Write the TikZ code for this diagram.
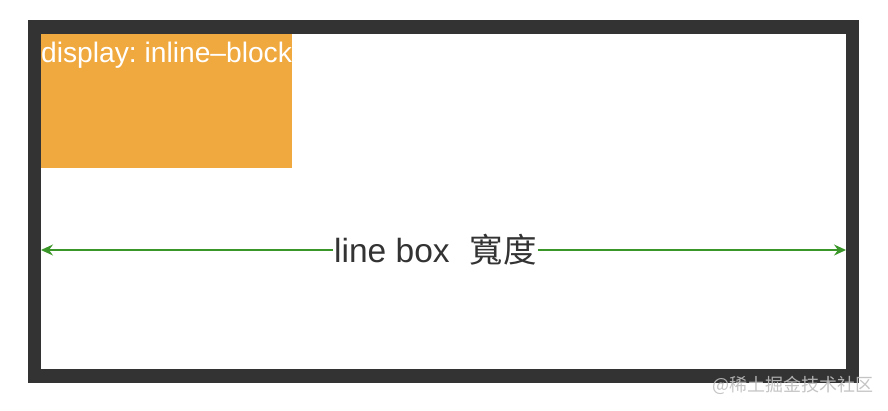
\documentclass[tikz,border=0pt]{standalone}
\usepackage{fontspec}
\setmainfont{Liberation Sans}
\newfontfamily\cjk{Noto Sans CJK SC}
\usetikzlibrary{arrows.meta, positioning}
\frenchspacing
\definecolor{framegray}{RGB}{51,51,51}
\definecolor{ibkorange}{RGB}{240,169,62}
\definecolor{dimgreen}{RGB}{58,150,40}
\definecolor{markgray}{RGB}{190,190,190}
\tikzset{
  linebox/.style={rectangle, draw=framegray, line width=13.5pt, inner sep=0pt, outer sep=0pt},
  ibkbox/.style={rectangle, fill=ibkorange, inner sep=0pt, outer sep=0pt, anchor=north west,
    minimum width=251pt, minimum height=134pt},
  dimlabel/.style={fill=white, inner sep=1pt, font=\fontsize{33.5}{36}\selectfont,
    text=framegray},
  dimarr/.style={-{Stealth[length=12pt, width=11pt, inset=4pt]}, line width=1.4pt, dimgreen},
}

\begin{document}
\begin{tikzpicture}[x=1pt, y=-1pt]
\useasboundingbox (0,0) rectangle (888,410);

% ── Outer line box ──
\node[linebox, minimum width=818pt, minimum height=349pt, anchor=north west]
  (frame) at (34.5,27.2) {};

% ── Inline-block ──
\node[ibkbox] (ibk) at (41,34) {};
\node[anchor=base west, inner sep=0pt, text=white, font=\fontsize{28.2}{30}\selectfont]
  (ibktext) at (41,62) {display: inline--block};

% ── Width dimension ──
\coordinate (lft) at (41,250);
\coordinate (rgt) at (846,250);
\node[dimlabel] (dim) at (435.5,250) {line box\hspace{0.6em}{\cjk 寬度}};
\draw[dimarr] (dim.west) -- (lft);
\draw[dimarr] (dim.east) -- (rgt);

% ── Watermark ──
\node[anchor=east, inner sep=0pt, text=markgray, opacity=0.9,
      font=\cjk\fontsize{18}{20}\selectfont] (mark) at (874,385) {@稀土掘金技术社区};

\end{tikzpicture}
\end{document}
